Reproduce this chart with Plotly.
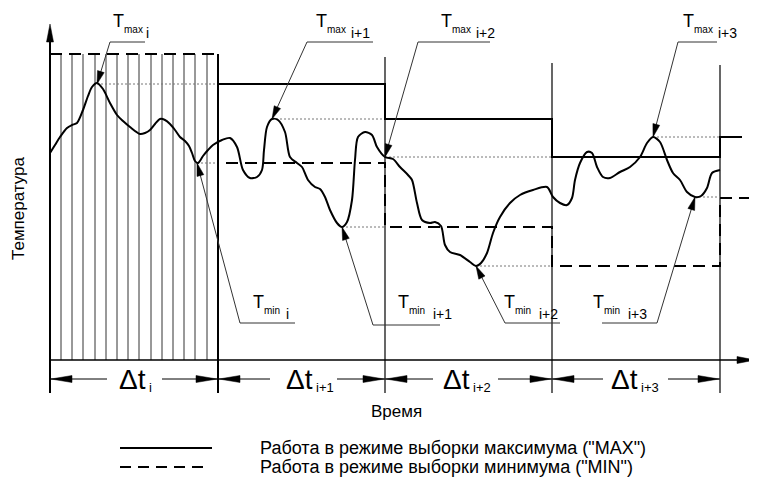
import math
import plotly.graph_objects as go

# ---------------- data (diagram units: time -> x, temperature -> y, y grows downward) -------------
curve_t = [50, 55, 60, 67, 72, 77, 83, 88, 92, 97, 103, 110, 117, 123, 130, 140, 145, 150, 155, 160,
           165, 170, 175, 180, 185, 189, 192, 195, 198, 203, 208, 213, 222, 230, 237, 243, 250, 257,
           262, 264, 267, 272, 278, 285, 290, 297, 302, 308, 315, 320, 325, 330, 337, 342, 347, 352,
           355, 358, 365, 372, 377, 385, 393, 400, 408, 412, 417, 422, 430, 435, 441, 445, 450, 460,
           470, 476, 481, 487, 493, 500, 510, 520, 533, 547, 553, 560, 567, 572, 575, 580, 587, 592,
           597, 603, 610, 620, 630, 640, 647, 653, 660, 667, 673, 680, 687, 695, 701, 707, 712, 720]
curve_T = [153, 145, 137, 128, 125, 123, 110, 96, 87, 83, 89, 103, 115, 121, 127, 134, 133, 130, 124, 119,
           120, 124, 130, 137, 141, 146, 153, 161, 163, 156, 150, 145, 140, 138, 147, 170, 178, 177,
           170, 150, 127, 119, 120, 132, 157, 163, 167, 180, 187, 189, 197, 210, 223, 227, 222, 200,
           160, 137, 132, 135, 147, 157, 159, 167, 175, 180, 203, 220, 223, 222, 226, 245, 252, 255,
           262, 266, 263, 253, 233, 217, 203, 195, 190, 187, 197, 203, 205, 198, 180, 163, 152, 153,
           167, 177, 178, 172, 167, 157, 143, 137, 142, 160, 173, 180, 192, 197, 196, 188, 173, 170]

interval_x = [50, 218, 385, 552, 720]
interval_top = [30, 54, 57, 63, 65]
hatch_x = [61, 72, 83, 95, 106, 117, 128, 139, 151, 162, 173, 184, 195, 207]

max_x = [218, 385, 385, 552, 552, 720, 720, 742]
max_y = [84, 84, 119, 119, 157, 157, 137, 137]
min_x = [50, 218, 218, 385, 385, 552, 552, 720, 720, 757]
min_y = [54, 54, 163, 163, 227, 227, 266, 266, 198, 198]

# extrema (x, y) and the boundary where their dotted guide ends
ext_names = ["max", "max", "max", "max", "min", "min", "min", "min"]
ext_index = ["i", "i+1", "i+2", "i+3", "i", "i+1", "i+2", "i+3"]
ext_x = [97, 272, 385, 653, 197, 342, 476, 695]
ext_y = [84, 119, 157, 137, 163, 227, 266, 197]
guide_end = [218, 385, 552, 720, 218, 385, 552, 720]
# label anchors: start of leader and underline extent
lead_x = [110, 307, 418, 678, 240, 373, 505, 657]
lead_y = [42, 42, 42, 42, 323, 325, 323, 323]
under_x0 = [110, 307, 418, 678, 240, 373, 505, 602]
under_x1 = [145, 373, 490, 717, 295, 440, 560, 657]
label_T_x = [111, 314, 439, 681, 251, 396, 502, 591]
label_T_y = [21, 21, 21, 21, 302, 302, 302, 302]

dt_labels = ["i", "i+1", "i+2", "i+3"]
dt_center = [132, 299, 456, 624]
dt_gap_l = [107, 270, 433, 603]
dt_gap_r = [162, 337, 498, 668]

legend_texts = ['Работа в режиме выборки максимума ("MAX")',
                'Работа в режиме выборки минимума ("MIN")']

FONT = "Liberation Sans, Arial, sans-serif"
fig = go.Figure()


def line(xs, ys, width=1.0, color="black", dash=None):
    fig.add_trace(go.Scatter(x=xs, y=ys, mode="lines", hoverinfo="skip", showlegend=False,
                             line=dict(color=color, width=width, dash=dash)))


def arrowhead(tip_x, tip_y, from_x, from_y, length, half):
    dx, dy = tip_x - from_x, tip_y - from_y
    n = math.hypot(dx, dy)
    ux, uy = dx / n, dy / n
    bx, by = tip_x - ux * length, tip_y - uy * length
    px, py = -uy * half, ux * half
    fig.add_trace(go.Scatter(x=[tip_x, bx + px, bx - px, tip_x], y=[tip_y, by + py, by - py, tip_y],
                             mode="lines", fill="toself", fillcolor="black", hoverinfo="skip",
                             line=dict(color="black", width=0.5), showlegend=False))


def text(x, y, s, size, xanchor="left", angle=0):
    fig.add_annotation(x=x, y=y, text=s, showarrow=False, xanchor=xanchor, yanchor="middle",
                       textangle=angle, font=dict(family=FONT, size=size, color="black"))


BOTTOM = 393
AXIS_Y = 360

# hatching of the first interval
for hx in hatch_x:
    line([hx, hx], [54, AXIS_Y], width=1, color="#333333")

# interval boundaries
for bx, top in zip(interval_x, interval_top):
    line([bx, bx], [top, BOTTOM], width=2 if bx in (50, 218) else 1.2)

# axes
line([50, 745], [AXIS_Y, AXIS_Y], width=1.5)
arrowhead(50, 24, 50, 60, 18, 3.5)
arrowhead(755, AXIS_Y, 700, AXIS_Y, 18, 3.5)

# dotted guides
for x0, y0, x1 in zip(ext_x, ext_y, guide_end):
    line([x0, x1], [y0, y0], width=1, color="#777777", dash="2px,2px")

# MAX (solid) and MIN (dashed) registers
line(max_x, max_y, width=2)
line(min_x, min_y, width=2, dash="12px,7px")

# the temperature curve
fig.add_trace(go.Scatter(x=curve_t, y=curve_T, mode="lines", hoverinfo="skip", showlegend=False,
                         line=dict(color="black", width=2, shape="spline", smoothing=0.8)))

# leaders and labels of the extrema
for k in range(8):
    line([under_x0[k], under_x1[k]], [lead_y[k], lead_y[k]], width=1, color="#333333")
    line([lead_x[k], ext_x[k]], [lead_y[k], ext_y[k]], width=1, color="#333333")
    arrowhead(ext_x[k], ext_y[k], lead_x[k], lead_y[k], 13, 3.5)
    tx, ty = label_T_x[k], label_T_y[k]
    text(tx, ty, "T", 18)
    text(tx + 11, ty + 8, ext_names[k], 10)
    text(tx + (33 if ext_index[k] == "i" else 35), ty + 12, ext_index[k], 14)

# interval dimensions
DIM_Y = 379
for k in range(4):
    a, b = interval_x[k], interval_x[k + 1]
    line([a, dt_gap_l[k]], [DIM_Y, DIM_Y], width=1)
    line([dt_gap_r[k], b], [DIM_Y, DIM_Y], width=1)
    arrowhead(a + 1, DIM_Y, b, DIM_Y, 21, 3.5)
    arrowhead(b - 1, DIM_Y, a, DIM_Y, 21, 3.5)
    text(dt_center[k], DIM_Y, "Δt", 28, xanchor="center")
    text(dt_center[k] + 15, DIM_Y + 8, dt_labels[k], 13)

# axis titles
text(396, 411, "Время", 17, xanchor="center")
text(18, 208, "Температура", 17, xanchor="center", angle=-90)

# legend
line([120, 212], [448, 448], width=2)
line([120, 207], [467, 467], width=2, dash="11px,7px")
text(258, 448, legend_texts[0], 18)
text(258, 467, legend_texts[1], 18)

# the page body has an 8px margin: the plot div starts at (8, 8)
fig.update_layout(width=749, height=469, margin=dict(l=0, r=0, t=0, b=0),
                  paper_bgcolor="white", plot_bgcolor="white",
                  xaxis=dict(range=[8, 757], visible=False, fixedrange=True),
                  yaxis=dict(range=[477, 8], visible=False, fixedrange=True))
fig.write_html("out.html")
